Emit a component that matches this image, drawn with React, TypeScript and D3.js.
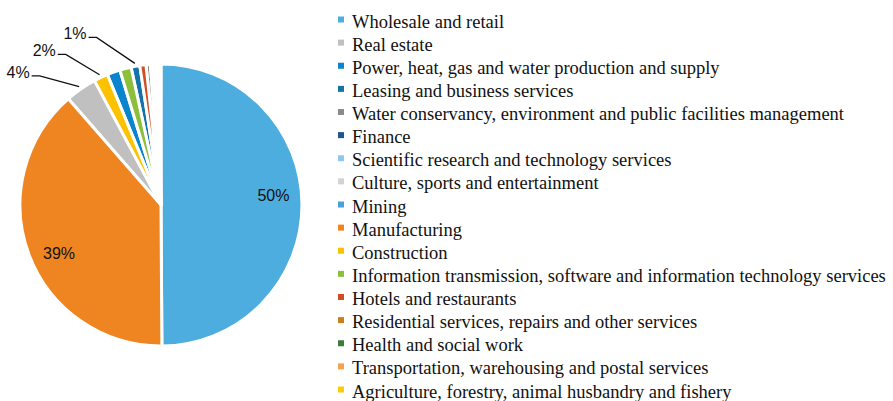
import React from "react";
import * as d3 from "d3";

const categories = [
  "Wholesale and retail",
  "Real estate",
  "Power, heat, gas and water production and supply",
  "Leasing and business services",
  "Water conservancy, environment and public facilities management",
  "Finance",
  "Scientific research and technology services",
  "Culture, sports and entertainment",
  "Mining",
  "Manufacturing",
  "Construction",
  "Information transmission, software and information technology services",
  "Hotels and restaurants",
  "Residential services, repairs and other services",
  "Health and social work",
  "Transportation, warehousing and postal services",
  "Agriculture, forestry, animal husbandry and fishery",
];

const values = [49.8, 3.6, 1.5, 1.0, 0.5, 0.2, 0.15, 0.15, 0.15, 38.6, 1.6, 1.3, 0.7, 0.15, 0.1, 0.15, 0.15];

const colors = [
  "#4eaddf", "#c0c0c0", "#0a84cc", "#1673aa", "#8c8c8c", "#1f5596",
  "#8ec8ee", "#d3d3d3", "#4a9fd8", "#ef8521", "#fcc200", "#8dbf3c",
  "#d24e22", "#c6801e", "#3f7b3c", "#f4a24c", "#fdcc0a",
];

const insideLabels = ["Wholesale and retail", "Manufacturing"];
const outsideLabels = ["Real estate", "Construction", "Leasing and business services"];
const outsideShiftDeg = [10, 9, 13];

export default function App() {
  const W = 893, H = 401;
  const cx = 161, cy = 205, R = 141;
  const total = d3.sum(values);
  const data = categories.map((c, i) => ({ c, v: values[i], color: colors[i] }));
  const pie = d3.pie<any>().value((d) => d.v).sort((a, b) => b.v - a.v);
  const arcs = pie(data);
  const arc = d3.arc<any>().innerRadius(0).outerRadius(R);
  const pct = (v: number) => `${Math.round((v / total) * 100)}%`;

  const pt = (ang: number, r: number) => [cx + r * Math.sin(ang), cy - r * Math.cos(ang)];

  const legendY = d3.scaleLinear().domain([0, categories.length - 1]).range([27.5, 397.5]);

  return (
    <svg width={W} height={H} style={{ position: "absolute", left: 0, top: 0, background: "#fff" }}>
      <g transform={`translate(${cx},${cy})`}>
        {arcs.map((a, i) => (
          <path key={i} d={arc(a) as string} fill={a.data.color} stroke="#fff" strokeWidth={3} strokeLinejoin="round" />
        ))}
      </g>
      {arcs.filter((a) => insideLabels.includes(a.data.c)).map((a, i) => {
        const mid = (a.startAngle + a.endAngle) / 2;
        const [x, y] = pt(mid - 0.08, R * 0.8);
        return (
          <text key={i} x={x} y={y} dy="0.35em" textAnchor="middle" fontFamily="Liberation Sans" fontSize={16} fill="#111">
            {pct(a.data.v)}
          </text>
        );
      })}
      {outsideLabels.map((name, i) => {
        const a = arcs.find((d) => d.data.c === name)!;
        const mid = (a.startAngle + a.endAngle) / 2;
        const [ex, ey] = pt(mid, R + 3);
        const [lx, ly] = pt(mid - (outsideShiftDeg[i] * Math.PI) / 180, 187);
        const sx = lx + 2, sy = ly + 4;
        return (
          <g key={name}>
            <polyline points={`${sx},${sy} ${sx + 8},${sy} ${ex},${ey}`} fill="none" stroke="#111" strokeWidth={1.3} />
            <text x={lx} y={ly} dy="0.35em" textAnchor="end" fontFamily="Liberation Sans" fontSize={16} fill="#111">
              {pct(a.data.v)}
            </text>
          </g>
        );
      })}
      <g>
        {categories.map((c, i) => (
          <g key={c}>
            <rect x={338} y={legendY(i) - 11} width={6} height={6} fill={colors[i]} />
            <text x={352} y={legendY(i)} fontFamily="Liberation Serif" fontSize={18.5} fill="#111">
              {c}
            </text>
          </g>
        ))}
      </g>
    </svg>
  );
}
